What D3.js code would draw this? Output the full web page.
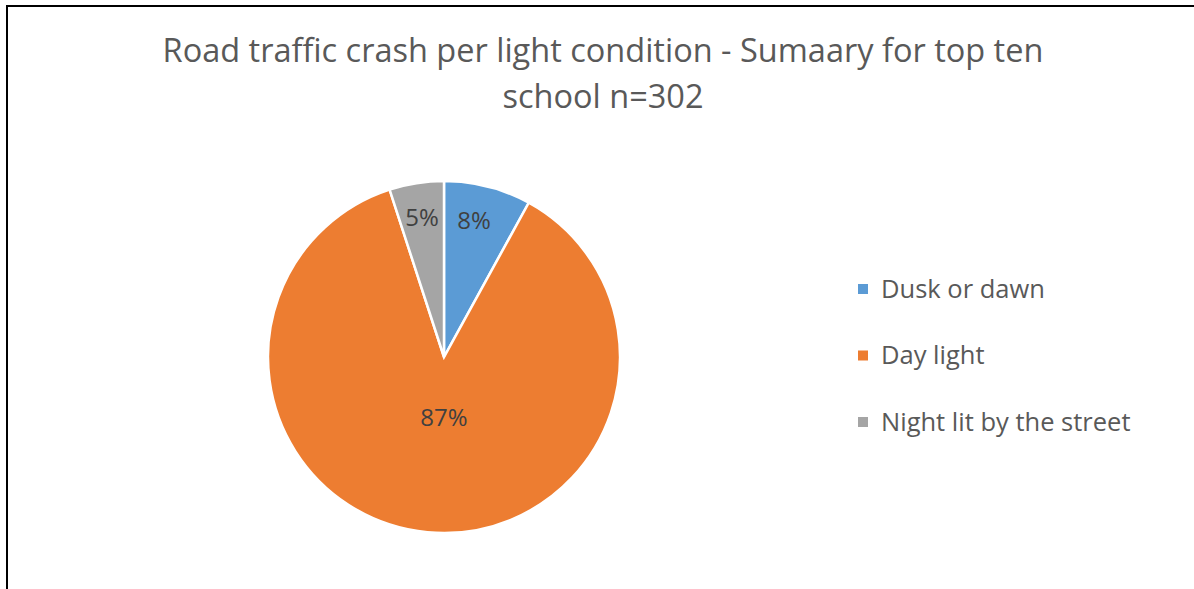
<!DOCTYPE html>
<html>
<head>
<meta charset="utf-8">
<script src="https://cdn.jsdelivr.net/npm/d3@7"></script>
<style>
  body { margin: 0; background: #fff; }
  text { font-family: "Open Sans", sans-serif; }
</style>
</head>
<body>
<svg id="chart" width="1194" height="589"></svg>
<script>
const categories = ["Dusk or dawn", "Day light", "Night lit by the street"]
const values = [8, 87, 5]
const labels = ["8%", "87%", "5%"]
const colors = ["#5b9bd5", "#ed7d31", "#a5a5a5"]
const titleLines = ["Road traffic crash per light condition - Sumaary for top ten", "school n=302"]

const svg = d3.select("#chart")

// chart border (left and top show, right/bottom run off the picture)
svg.append("rect")
    .attr("x", 7).attr("y", 6)
    .attr("width", 1200).attr("height", 600)
    .style("fill", "none")
    .style("stroke", "#000")
    .style("stroke-width", 2)

svg.append("g").selectAll("text")
    .data(titleLines)
    .join("text")
    .attr("x", 603)
    .attr("y", (d, i) => 62 + i * 46)
    .attr("text-anchor", "middle")
    .style("font-size", "32.5px")
    .style("fill", "#595959")
    .text(d => d)

const cx = 444, cy = 357, r = 176

const pie = d3.pie().sort(null).value(d => d)
const arcs = pie(values)
const arc = d3.arc().innerRadius(0).outerRadius(r)
const labelArc = d3.arc().innerRadius(r * 0.8).outerRadius(r * 0.8)

const g = svg.append("g").attr("transform", "translate(" + cx + "," + cy + ")")

g.selectAll("path")
    .data(arcs)
    .join("path")
    .attr("d", arc)
    .style("fill", (d, i) => colors[i])
    .style("stroke", "#fff")
    .style("stroke-width", 2.5)

g.selectAll("text")
    .data(arcs)
    .join("text")
    .attr("transform", function (d, i) {
        if (i == 1) return "translate(0," + 61 + ")"
        let c = labelArc.centroid(d)
        return "translate(" + (c[0] - (i == 0 ? 5 : 0)) + "," + c[1] + ")"
    })
    .attr("text-anchor", "middle")
    .attr("dy", "0.35em")
    .style("font-size", "24px")
    .style("fill", "#404040")
    .text((d, i) => labels[i])

const legend = svg.append("g")
    .selectAll("g")
    .data(categories)
    .join("g")
    .attr("transform", (d, i) => "translate(858," + (289 + i * 66.5) + ")")

legend.append("rect")
    .attr("x", 0).attr("y", -5)
    .attr("width", 10).attr("height", 10)
    .style("fill", (d, i) => colors[i])

legend.append("text")
    .attr("x", 23)
    .attr("dy", "0.35em")
    .style("font-size", "25.5px")
    .style("fill", "#595959")
    .text(d => d)
</script>
</body>
</html>
